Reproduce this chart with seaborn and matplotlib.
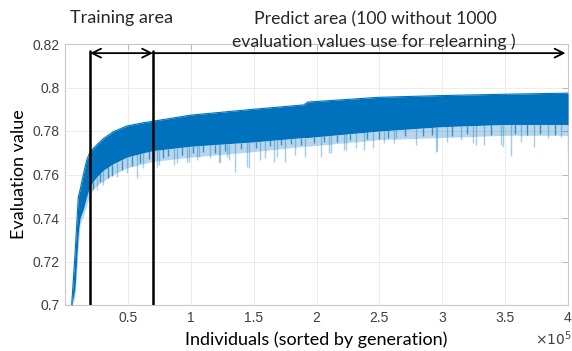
import matplotlib
matplotlib.use("Agg")
import matplotlib.pyplot as plt
import seaborn as sns
import numpy as np
import pandas as pd

# ---- data (x in units of 1e5 individuals) ----
env_x = [0.05, 0.053, 0.080, 0.106, 0.12, 0.146, 0.173, 0.20, 0.253, 0.305,
         0.385, 0.492, 0.624, 0.70, 1.0, 1.5, 1.90, 1.93, 2.5, 3.0, 3.5, 4.0]
upper = [0.699, 0.700, 0.7238, 0.7498, 0.7529, 0.760, 0.7667, 0.7705, 0.7736,
         0.7765, 0.7797, 0.7823, 0.7838, 0.7845, 0.7873, 0.7900, 0.7920, 0.7933,
         0.7955, 0.7963, 0.7969, 0.7974]
solid_lower = [0.699, 0.699, 0.708, 0.733, 0.740, 0.744, 0.750, 0.755, 0.759,
               0.762, 0.765, 0.768, 0.770, 0.771, 0.773, 0.775, 0.777, 0.777,
               0.780, 0.782, 0.783, 0.783]
mid_lower = [0.699, 0.699, 0.704, 0.727, 0.737, 0.741, 0.746, 0.751, 0.755,
             0.757, 0.760, 0.763, 0.765, 0.766, 0.768, 0.7705, 0.773, 0.773,
             0.776, 0.777, 0.778, 0.778]

spike_x = [0.252, 0.305, 0.412, 0.492, 0.571, 0.624, 0.731, 0.744, 0.863, 0.890,
           0.970, 0.983, 1.049, 1.062, 1.155, 1.222, 1.235, 1.288, 1.301, 1.355,
           1.448, 1.461, 1.554, 1.594, 1.660, 1.687, 1.753, 1.833, 1.912, 2.032,
           2.098, 2.112, 2.218, 2.231, 2.311, 2.377, 2.452, 2.537, 2.616, 2.629,
           2.789, 2.948, 2.962, 3.041, 3.147, 3.241, 3.267, 3.333, 3.466, 3.480,
           3.546, 3.625, 3.732, 3.838, 3.944, 3.998]
spike_y = [0.7529, 0.7552, 0.7590, 0.7606, 0.7583, 0.7629, 0.7636, 0.7644, 0.7644, 0.7652,
           0.7659, 0.7659, 0.7667, 0.7682, 0.7675, 0.7652, 0.7659, 0.7682, 0.7667, 0.7613,
           0.7636, 0.7629, 0.7667, 0.7675, 0.7659, 0.7682, 0.7659, 0.7690, 0.7682, 0.7682,
           0.7698, 0.7698, 0.7713, 0.7713, 0.7721, 0.7713, 0.7721, 0.7744, 0.7744, 0.7767,
           0.7736, 0.7705, 0.7708, 0.7751, 0.7759, 0.7744, 0.7736, 0.7736, 0.7736, 0.7728,
           0.7685, 0.7751, 0.7728, 0.7767, 0.7774, 0.7705]

mid_spike_x = [0.22, 0.28, 0.34, 0.37, 0.45, 0.53, 0.60, 0.67, 0.78, 0.82, 0.93,
               1.02, 1.10, 1.19, 1.27, 1.40, 1.52, 1.63, 1.72, 1.80, 1.88, 1.98,
               2.06, 2.16, 2.27, 2.40, 2.50, 2.57, 2.70, 2.85, 2.92, 3.08, 3.20,
               3.39, 3.58, 3.67, 3.78, 3.90]
mid_spike_y = [0.7535, 0.7565, 0.7585, 0.7595, 0.7620, 0.7640, 0.7655, 0.7670, 0.7675,
               0.7685, 0.7690, 0.7700, 0.7705, 0.7700, 0.7710, 0.7715, 0.7720, 0.7730,
               0.7735, 0.7740, 0.7735, 0.7745, 0.7750, 0.7750, 0.7760, 0.7765, 0.7765,
               0.7770, 0.7775, 0.7775, 0.7780, 0.7775, 0.7785, 0.7780, 0.7785, 0.7780,
               0.7785, 0.7780]

train_start = 0.2
predict_start = 0.7
x_end = 4.0
arrow_y = 0.8158

xticks = [0.5, 1, 1.5, 2, 2.5, 3, 3.5, 4]
xtick_labels = ["0.5", "1", "1.5", "2", "2.5", "3", "3.5", "4"]
yticks = [0.7, 0.72, 0.74, 0.76, 0.78, 0.8, 0.82]
ytick_labels = ["0.7", "0.72", "0.74", "0.76", "0.78", "0.8", "0.82"]

blue = "#0072BD"

sns.set_theme(style="white")
plt.rcParams['font.family'] = ['Lato', 'DejaVu Sans']

fig = plt.figure(figsize=(5.72, 3.51), dpi=100)
ax = fig.add_axes([65/572, 46/351, 503/572, 261/351])

df = pd.DataFrame({"x": env_x, "upper": upper, "solid": solid_lower, "mid": mid_lower})

spike_base = np.interp(spike_x, env_x, solid_lower)
ax.vlines(spike_x, spike_y, spike_base, color=blue, alpha=0.35, lw=1.0, zorder=2)
mid_base = np.interp(mid_spike_x, env_x, solid_lower)
ax.vlines(mid_spike_x, mid_spike_y, mid_base, color=blue, alpha=0.7, lw=1.0, zorder=2)

ax.fill_between(df["x"], df["mid"], df["solid"], color=blue, alpha=0.28, lw=0, zorder=2)
ax.fill_between(df["x"], df["solid"], df["upper"], color=blue, lw=0, zorder=3)
sns.lineplot(data=df, x="x", y="upper", ax=ax, color=blue, lw=0.8, zorder=3)

ax.set_xlim(0, 4)
ax.set_ylim(0.7, 0.82)
ax.set_xticks(xticks)
ax.set_xticklabels(xtick_labels, family=['Liberation Sans'])
ax.set_yticks(yticks)
ax.set_yticklabels(ytick_labels, family=['Liberation Sans'])
ax.tick_params(axis='both', direction='in', length=4, width=0.6, color='#b0b0b0',
               labelsize=10, labelcolor='#404040', top=True, right=True,
               labeltop=False, labelright=False, pad=4)
ax.grid(True, color='#ececec', lw=0.7)
ax.set_axisbelow(True)
for s in ax.spines.values():
    s.set_color('#c8c8c8')
    s.set_linewidth(0.8)
ax.set_xlabel("Individuals (sorted by generation)", fontsize=13, color='black', labelpad=5)
ax.set_ylabel("Evaluation value", fontsize=13, color='black', labelpad=4)

# vertical markers
for xv in (train_start, predict_start):
    ax.plot([xv, xv], [0.7, 0.817], color='black', lw=1.8, zorder=5)

ax.annotate("", xy=(train_start, arrow_y), xytext=(predict_start, arrow_y),
            arrowprops=dict(arrowstyle='<->', color='black', lw=1.3,
                            mutation_scale=16, shrinkA=0, shrinkB=0), zorder=6)
ax.annotate("", xy=(x_end - 0.02, arrow_y), xytext=(predict_start, arrow_y),
            arrowprops=dict(arrowstyle='->', color='black', lw=1.3,
                            mutation_scale=16, shrinkA=0, shrinkB=0), zorder=6)

fig.text(121/572, 1 - 18/351, "Training area", fontsize=13, ha='center', va='center')
fig.text(375/572, 1 - 19/351, "Predict area (100 without 1000", fontsize=12.7,
         ha='center', va='center')
fig.text(374/572, 1 - 42/351, "evaluation values use for relearning )", fontsize=12.7,
         ha='center', va='center')
fig.text(553/572, 1 - 339/351, r"$\times10^5$", fontsize=10, color='#404040',
         ha='center', va='center', family=['DejaVu Sans'])

fig.savefig("out.png", dpi=100)
